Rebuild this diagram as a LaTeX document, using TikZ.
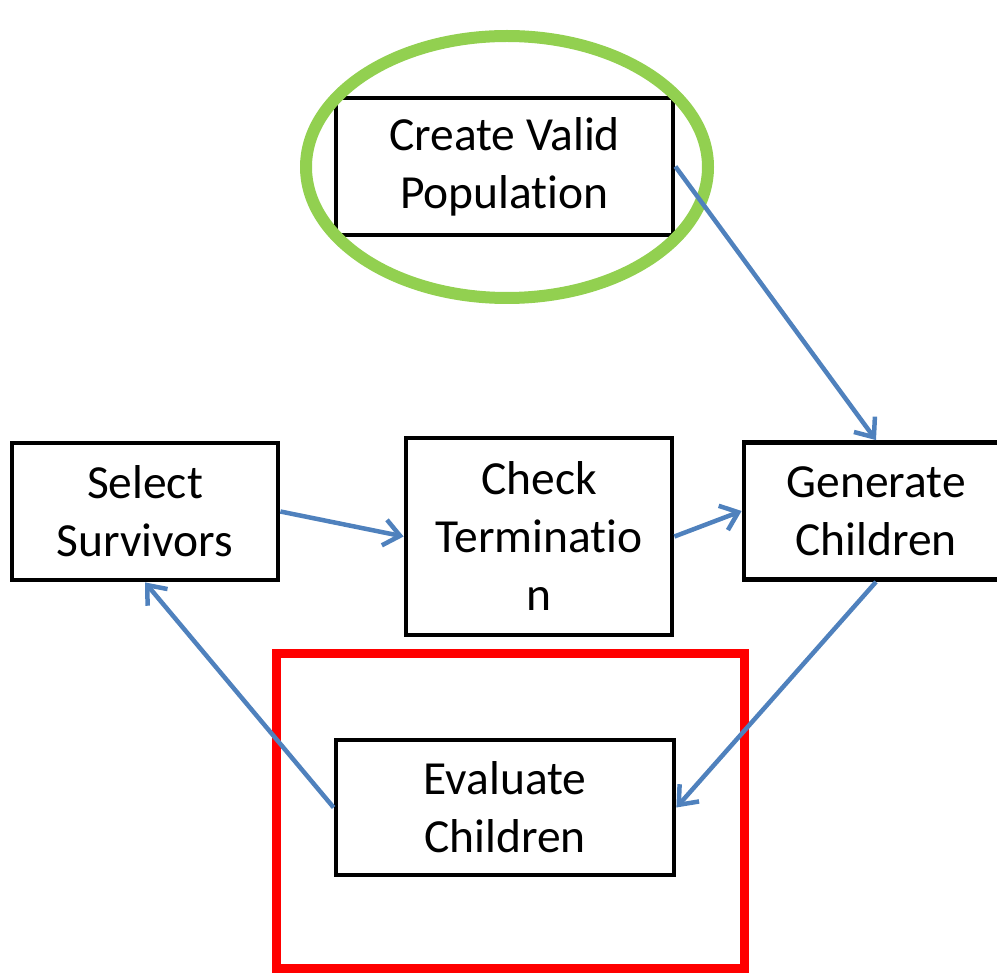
\documentclass[tikz,border=0pt]{standalone}
\usepackage{fontspec}
\setmainfont[Ligatures=NoCommon]{Carlito}
\usetikzlibrary{arrows.meta,shapes.geometric}
\definecolor{flowblue}{HTML}{4F81BD}
\definecolor{halogreen}{HTML}{92D050}
\definecolor{framered}{HTML}{FF0000}
\tikzset{
  stagebox/.style={draw=black, line width=4.8pt, fill=white, rectangle, inner sep=0pt,
    align=center, font=\fontsize{47.5}{58}\selectfont},
  flow/.style={draw=flowblue, line width=4.5pt,
    -{Straight Barb[length=16pt,width=26pt,line width=4.5pt]}}
}
\begin{document}
\begin{tikzpicture}[x=1pt,y=-1pt]
  \useasboundingbox (0,0) rectangle (997,973);
  \clip (0,0) rectangle (997,973);

  % process stages
  \node[stagebox, minimum width=337pt, minimum height=137pt] (create) at (504.5,166.5) {Create Valid\\Population};
  \node[stagebox, minimum width=266pt, minimum height=137pt] (select) at (145,511.5) {Select\\Survivors};
  \node[stagebox, minimum width=266pt, minimum height=197pt] (check) at (539,536.5) {Check\\Terminatio\\n};
  \node[stagebox, minimum width=264pt, minimum height=137pt] (generate) at (876,511) {Generate\\Children};
  \node[stagebox, minimum width=338pt, minimum height=135pt] (evaluate) at (505,807.5) {Evaluate\\Children};

  % highlights
  \node[draw=halogreen, line width=12pt, ellipse, inner sep=0pt,
        minimum width=402pt, minimum height=262pt] (halo) at (507,167) {};
  \node[draw=framered, line width=9pt, rectangle, inner sep=0pt,
        minimum width=468pt, minimum height=315pt] (frame) at (510,810.5) {};

  % flow between stages
  \draw[flow] (create.east) -- (generate.north);
  \draw[flow] (select.east) -- (check.west);
  \draw[flow] (check.east) -- (generate.west);
  \draw[flow] (generate.south) -- (evaluate.east);
  \draw[flow] (evaluate.west) -- (select.south);
\end{tikzpicture}
\end{document}
